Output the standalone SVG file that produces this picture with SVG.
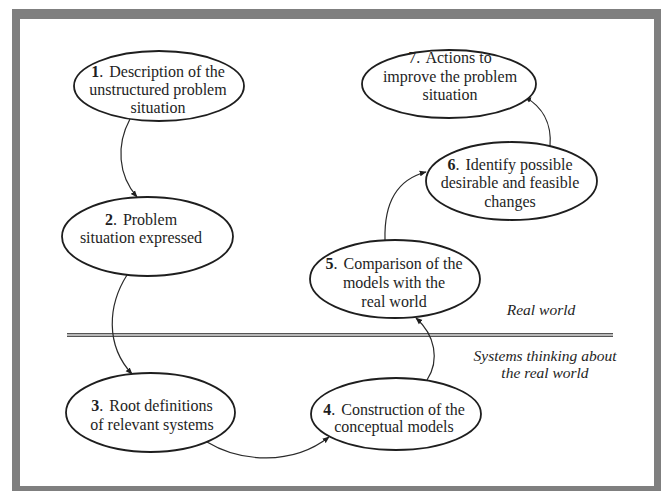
<svg xmlns="http://www.w3.org/2000/svg" width="664" height="491" viewBox="0 0 664 491">
<style>
.node ellipse{fill:#fff;stroke:#1e1e1e;stroke-width:1.8}
.t{font-family:"Liberation Serif","Times New Roman",serif;font-size:16px;fill:#1e1e1e;text-anchor:middle}
.t tspan.b{font-weight:bold}
.it{font-family:"Liberation Serif","Times New Roman",serif;font-size:15.5px;font-style:italic;fill:#1e1e1e;text-anchor:middle}
.conn path{fill:none;stroke:#2a2a2a;stroke-width:1.2;marker-end:url(#ah)}
</style>
<defs>
<marker id="ah" viewBox="0 0 10 10" refX="9" refY="5" markerWidth="7" markerHeight="7" orient="auto" markerUnits="userSpaceOnUse">
<path d="M0,1 L10,5 L0,9 z" fill="#1e1e1e"/>
</marker>
</defs>
<rect x="0" y="0" width="664" height="491" fill="#fff"/>
<rect x="12" y="9" width="649" height="482" fill="#7f7f7f"/>
<rect x="20" y="19" width="634" height="467" fill="#fff"/>

<g id="divider">
<rect x="67" y="333" width="546" height="4" fill="#b8b8b8"/>
<line x1="67" y1="333.5" x2="613" y2="333.5" stroke="#555" stroke-width="1.2"/>
<line x1="67" y1="336.5" x2="613" y2="336.5" stroke="#555" stroke-width="1.2"/>
</g>

<g id="connectors" class="conn">
<path d="M130,119 C116,145 118,175 137,197"/>
<path d="M127,275 C108,305 105,345 132,374"/>
<path d="M207,442 C240,462 292,466 329,437"/>
<path d="M427,380 C440,360 435,335 416,318"/>
<path d="M385,240 C384,205 395,180 426,172"/>
<path d="M550,146 C552,122 541,106 525,97"/>
</g>

<g id="node1" class="node">
<ellipse cx="159" cy="86" rx="85" ry="35"/>
<text class="t" x="158" y="77"><tspan class="b">1</tspan>. <tspan dx="2">Description of the</tspan></text>
<text class="t" x="158" y="95">unstructured problem</text>
<text class="t" x="158" y="113">situation</text>
</g>

<g id="node2" class="node">
<ellipse cx="147.5" cy="236.5" rx="85.5" ry="39.5"/>
<text class="t" x="141" y="225"><tspan class="b">2</tspan>. <tspan dx="2">Problem</tspan></text>
<text class="t" x="141" y="243">situation expressed</text>
</g>

<g id="node3" class="node">
<ellipse cx="150.5" cy="412.5" rx="84.5" ry="39.5"/>
<text class="t" x="152" y="411"><tspan class="b">3</tspan>. <tspan dx="2">Root definitions</tspan></text>
<text class="t" x="152" y="430">of relevant systems</text>
</g>

<g id="node4" class="node">
<ellipse cx="396" cy="414" rx="85" ry="36"/>
<text class="t" x="394" y="415"><tspan class="b">4</tspan>. <tspan dx="2">Construction of the</tspan></text>
<text class="t" x="394" y="432">conceptual models</text>
</g>

<g id="node5" class="node">
<ellipse cx="395" cy="279" rx="85" ry="39"/>
<text class="t" x="394" y="269"><tspan class="b">5</tspan>. <tspan dx="2">Comparison of the</tspan></text>
<text class="t" x="394" y="288">models with the</text>
<text class="t" x="394" y="307">real world</text>
</g>

<g id="node6" class="node">
<ellipse cx="511.5" cy="181" rx="85.5" ry="39"/>
<text class="t" x="510" y="170"><tspan class="b">6</tspan>. <tspan dx="2">Identify possible</tspan></text>
<text class="t" x="510" y="188">desirable and feasible</text>
<text class="t" x="510" y="206.5">changes</text>
</g>

<g id="node7" class="node">
<ellipse cx="449" cy="84" rx="87" ry="34"/>
<text class="t" x="450" y="63">7. <tspan dx="2">Actions to</tspan></text>
<text class="t" x="450" y="81.5">improve the problem</text>
<text class="t" x="450" y="100">situation</text>
</g>

<g id="labels">
<text class="it" x="541" y="315">Real world</text>
<text class="it" x="545" y="361">Systems thinking about</text>
<text class="it" x="545" y="378">the real world</text>
</g>
</svg>
